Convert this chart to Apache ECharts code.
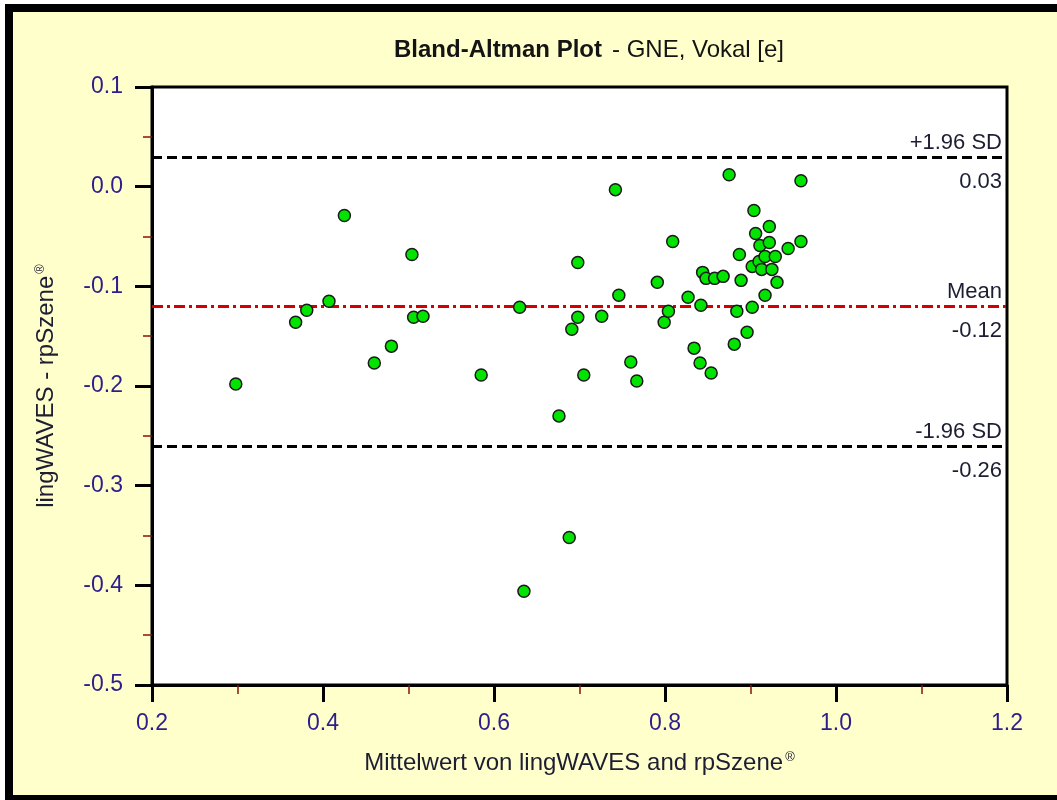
<!DOCTYPE html>
<html>
<head>
<meta charset="utf-8">
<title>Bland-Altman Plot - GNE, Vokal [e]</title>
<script src="https://cdn.jsdelivr.net/npm/echarts@6/dist/echarts.min.js"></script>
<style>
  html, body { margin: 0; padding: 0; background: #ffffff; }
  #chart { width: 1057px; height: 800px; }
</style>
</head>
<body>
<div id="chart"></div>
<script>
// Mean of the two measurements (x) and their difference (y), one entry per recording
const meanValues = [
  0.298, 0.368, 0.381, 0.407, 0.425, 0.460, 0.480, 0.504, 0.506, 0.517,
  0.585, 0.630, 0.635, 0.676, 0.688, 0.691, 0.698, 0.698, 0.705, 0.726,
  0.742, 0.746, 0.760, 0.767, 0.791, 0.799, 0.804, 0.809, 0.827, 0.834,
  0.841, 0.842, 0.844, 0.848, 0.854, 0.858, 0.868, 0.875, 0.881, 0.884,
  0.887, 0.889, 0.896, 0.902, 0.902, 0.904, 0.906, 0.910, 0.911, 0.913,
  0.917, 0.917, 0.922, 0.922, 0.925, 0.929, 0.931, 0.944, 0.959, 0.959
];
const diffValues = [
  -0.198, -0.136, -0.124, -0.115, -0.029, -0.177, -0.160, -0.068, -0.131, -0.130,
  -0.189, -0.121, -0.406, -0.230, -0.352, -0.143, -0.131, -0.076, -0.189, -0.130,
  -0.003, -0.109, -0.176, -0.195, -0.096, -0.136, -0.125, -0.055, -0.111, -0.162,
  -0.177, -0.119, -0.086, -0.092, -0.187, -0.092, -0.090, 0.012, -0.158, -0.125,
  -0.068, -0.094, -0.146, -0.080, -0.121, -0.024, -0.047, -0.075, -0.059, -0.083,
  -0.109, -0.070, -0.040, -0.056, -0.083, -0.070, -0.096, -0.062, 0.006, -0.055
];

// Limits of agreement and mean difference
const limitNames = ['+1.96 SD', 'Mean', '-1.96 SD'];
const limitValues = [0.027, -0.1155, -0.257];

// Axis ranges and tick spacing
const xRange = [0.2, 1.2];
const xStep = 0.2;
const yRange = [-0.5, 0.1];
const yStep = 0.1;

const FONT = 'Liberation Sans, Arial, sans-serif';
const LABEL_BLUE = '#2e1d8c';
const TEXT_DARK = '#1d1d33';

const points = meanValues.map((x, i) => [x, diffValues[i]]);

const dashed = { color: '#000000', width: 3, type: [10, 5] };
const dashDot = { color: '#d40000', width: 3, type: [11, 4, 3, 4] };
const limitStyles = [dashed, dashDot, dashed];

// Each limit line carries its name above; a transparent twin carries the value below
const limitLines = [];
limitValues.forEach((v, i) => {
  limitLines.push({
    yAxis: v,
    lineStyle: limitStyles[i],
    label: { formatter: limitNames[i], position: 'insideEndTop', distance: [5, 3] }
  });
  limitLines.push({
    yAxis: v,
    lineStyle: { color: 'rgba(0,0,0,0)', width: 1 },
    label: { formatter: v.toFixed(2), position: 'insideEndBottom', distance: [5, 14] }
  });
});

const axisCommon = {
  axisLine: { show: true, onZero: false, lineStyle: { color: '#000', width: 3 } },
  axisTick: { show: true, inside: false, length: 17, lineStyle: { color: '#000', width: 3 } },
  minorTick: { show: true, splitNumber: 2, length: 9, lineStyle: { color: '#8b1010', width: 1.5 } },
  splitLine: { show: false },
  minorSplitLine: { show: false },
  axisLabel: { color: LABEL_BLUE, fontFamily: FONT, fontSize: 23 }
};

const supStyle = { fontFamily: FONT, fontSize: 13, color: TEXT_DARK, verticalAlign: 'top', padding: [0, 0, 12, 2] };

const chart = echarts.init(document.getElementById('chart'), null, { renderer: 'canvas' });

chart.setOption({
  animation: false,
  backgroundColor: '#ffffff',
  graphic: [{
    type: 'rect',
    z: -100,
    shape: { x: 9, y: 8, width: 1100, height: 791 },
    style: { fill: '#ffffcc', stroke: '#000000', lineWidth: 8 }
  }],
  title: {
    left: 584,
    top: 33,
    textAlign: 'center',
    text: '{b|Bland-Altman Plot}  {r|- GNE, Vokal [e]}',
    textStyle: {
      rich: {
        b: { fontFamily: FONT, fontWeight: 'bold', fontSize: 24, color: '#141414' },
        r: { fontFamily: FONT, fontWeight: 'normal', fontSize: 24, color: '#141414' }
      }
    }
  },
  grid: {
    left: 152, right: 50, top: 87, bottom: 115,
    show: true, backgroundColor: '#ffffff', borderColor: '#000', borderWidth: 3
  },
  xAxis: Object.assign({}, axisCommon, {
    type: 'value',
    min: xRange[0], max: xRange[1], interval: xStep,
    axisLabel: Object.assign({}, axisCommon.axisLabel, {
      margin: 27, formatter: (v) => v.toFixed(1)
    }),
    name: 'Mittelwert von lingWAVES and rpSzene{sup|®}',
    nameLocation: 'middle',
    nameGap: 66,
    nameTextStyle: {
      fontFamily: FONT, fontSize: 24, color: TEXT_DARK,
      rich: { sup: supStyle }
    }
  }),
  yAxis: Object.assign({}, axisCommon, {
    type: 'value',
    min: yRange[0], max: yRange[1], interval: yStep,
    axisLabel: Object.assign({}, axisCommon.axisLabel, {
      margin: 29, formatter: (v) => v.toFixed(1)
    }),
    name: 'lingWAVES - rpSzene{sup|®}',
    nameLocation: 'middle',
    nameGap: 93,
    nameTextStyle: {
      fontFamily: FONT, fontSize: 24, color: TEXT_DARK,
      rich: { sup: supStyle }
    }
  }),
  series: [
    {
      type: 'scatter',
      data: points,
      symbol: 'circle',
      symbolSize: 12,
      z: 5,
      itemStyle: { color: '#00e400', borderColor: '#1a1a1a', borderWidth: 1.5, opacity: 1 },
      markLine: {
        silent: true,
        symbol: ['none', 'none'],
        z: 3,
        label: {
          show: true,
          fontFamily: FONT, fontSize: 22, color: TEXT_DARK
        },
        data: limitLines
      }
    }
  ]
});
</script>
</body>
</html>
